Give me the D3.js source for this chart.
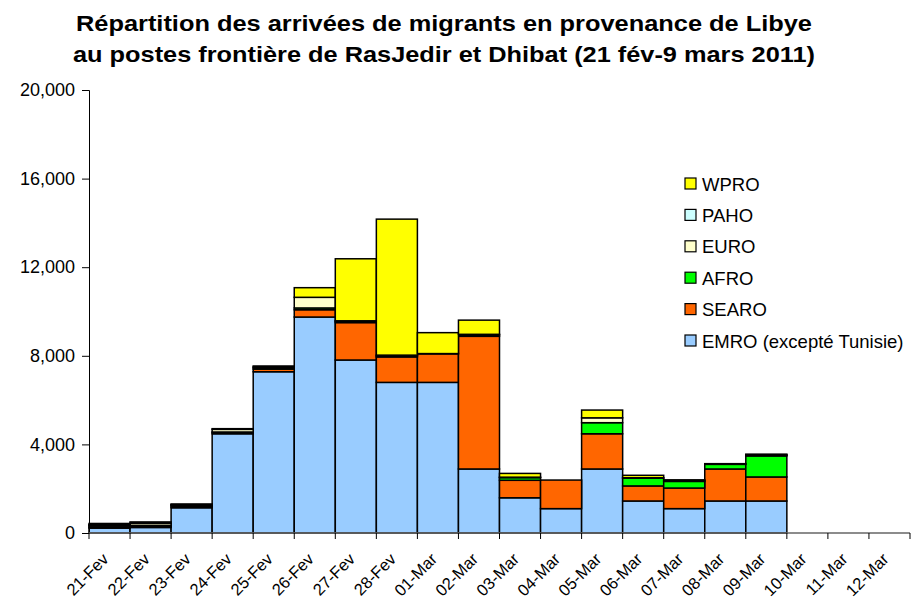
<!DOCTYPE html>
<html>
<head>
<meta charset="utf-8">
<script src="https://cdn.jsdelivr.net/npm/d3@7"></script>
<style>
  body { margin: 0; background: #fff; }
  text { font-family: "Liberation Sans", Arial, sans-serif; }
</style>
</head>
<body>
<div id="chart"></div>
<script>
// categories (days)
const days = ["21-Fev", "22-Fev", "23-Fev", "24-Fev", "25-Fev", "26-Fev", "27-Fev", "28-Fev",
    "01-Mar", "02-Mar", "03-Mar", "04-Mar", "05-Mar", "06-Mar", "07-Mar", "08-Mar",
    "09-Mar", "10-Mar", "11-Mar", "12-Mar"];

// series values, bottom to top
const emro  = [220, 250, 1140, 4480, 7280, 9750, 7810, 6800, 6800, 2890, 1590, 1100, 2890, 1445, 1100, 1445, 1445, 0, 0, 0];
const searo = [40, 40, 60, 60, 120, 330, 1690, 1150, 1290, 5990, 790, 1290, 1590, 680, 930, 1445, 1085, 0, 0, 0];
const afro  = [50, 40, 40, 20, 60, 80, 60, 50, 0, 60, 120, 0, 500, 350, 300, 210, 950, 0, 0, 0];
const euro  = [40, 100, 30, 120, 40, 480, 20, 30, 10, 30, 20, 0, 220, 20, 40, 20, 30, 0, 0, 0];
const paho  = [20, 10, 10, 0, 0, 0, 0, 0, 0, 0, 0, 0, 0, 0, 0, 0, 20, 0, 0, 0];
const wpro  = [60, 60, 30, 30, 40, 435, 2800, 6140, 945, 640, 170, 0, 350, 110, 30, 10, 30, 0, 0, 0];

const seriesNames = ["EMRO (excepté Tunisie)", "SEARO", "AFRO", "EURO", "PAHO", "WPRO"];
const seriesColors = ["#99CCFF", "#FF6600", "#00FF00", "#FFFFCC", "#CCFFFF", "#FFFF00"];
const yTicks = [0, 4000, 8000, 12000, 16000, 20000];

const titleLines = ["Répartition des arrivées de migrants en provenance de Libye",
    "au postes frontière de RasJedir et Dhibat (21 fév-9 mars 2011)"];
const titleWidths = [736, 742];

const allSeries = [emro, searo, afro, euro, paho, wpro];
const table = days.map((d, i) => {
    const row = { day: d };
    seriesNames.forEach((s, j) => { row[s] = allSeries[j][i]; });
    return row;
});

const width = 914, height = 603;
const margin = { top: 90, right: 4, bottom: 70, left: 89 };
const innerW = width - margin.left - margin.right;
const innerH = height - margin.top - margin.bottom;

const svg = d3.select("#chart").append("svg")
    .attr("width", width)
    .attr("height", height);

// title (stretched a little, like the original)
svg.append("g").selectAll("text")
    .data(titleLines)
    .join("text")
    .attr("x", 444)
    .attr("y", (d, i) => 31 + i * 31)
    .attr("text-anchor", "middle")
    .attr("font-size", 22.5)
    .attr("font-weight", "bold")
    .attr("textLength", (d, i) => titleWidths[i])
    .attr("lengthAdjust", "spacingAndGlyphs")
    .text(d => d);

const g = svg.append("g")
    .attr("transform", `translate(${margin.left},${margin.top})`);

const x = d3.scaleBand().domain(days).range([0, innerW]).padding(0);
const y = d3.scaleLinear().domain([0, 20000]).range([innerH, 0]);

const stacked = d3.stack().keys(seriesNames)(table);

g.append("g").selectAll("g")
    .data(stacked)
    .join("g")
    .attr("fill", (d, i) => seriesColors[i])
    .selectAll("rect")
    .data(d => d.filter(p => p[1] - p[0] > 0))
    .join("rect")
    .attr("x", d => x(d.data.day))
    .attr("y", d => y(d[1]))
    .attr("width", x.bandwidth())
    .attr("height", d => y(d[0]) - y(d[1]))
    .attr("stroke", "#000")
    .attr("stroke-width", 1.5);

// y axis
const yAxis = g.append("g")
    .call(d3.axisLeft(y).tickValues(yTicks).tickSize(7).tickPadding(7).tickFormat(d3.format(",")));
yAxis.selectAll("text").attr("font-size", 18).attr("font-family", "Liberation Sans, Arial, sans-serif").attr("fill", "#000");
yAxis.select(".domain").attr("stroke", "#000");

// x axis
const xTickPos = days.map(d => x(d)).concat([innerW]);
const xAxis = g.append("g").attr("transform", `translate(0,${innerH})`);
xAxis.append("line")
    .attr("x1", 0).attr("x2", innerW)
    .attr("stroke", "#666").attr("stroke-width", 1.5);
xAxis.selectAll("line.tick")
    .data(xTickPos)
    .join("line")
    .attr("class", "tick")
    .attr("x1", d => d).attr("x2", d => d)
    .attr("y1", 0).attr("y2", 6)
    .attr("stroke", "#000");
xAxis.selectAll("text")
    .data(days)
    .join("text")
    .attr("transform", d => `translate(${x(d) + x.bandwidth() / 2 - 8},${19}) rotate(-45)`)
    .attr("text-anchor", "end")
    .attr("font-size", 16.5)
    .attr("dy", "0.7em")
    .text(d => d);

// legend
const legendNames = seriesNames.slice().reverse();
const legendColors = seriesColors.slice().reverse();
const legend = svg.append("g").selectAll("g")
    .data(legendNames)
    .join("g")
    .attr("transform", (d, i) => `translate(685,${178 + i * 31.4})`);
legend.append("rect")
    .attr("width", 11).attr("height", 11)
    .attr("fill", (d, i) => legendColors[i])
    .attr("stroke", "#000").attr("stroke-width", 1.2);
legend.append("text")
    .attr("x", 17).attr("y", 6)
    .attr("dy", "0.36em")
    .attr("font-size", 18.5)
    .text(d => d);
</script>
</body>
</html>
